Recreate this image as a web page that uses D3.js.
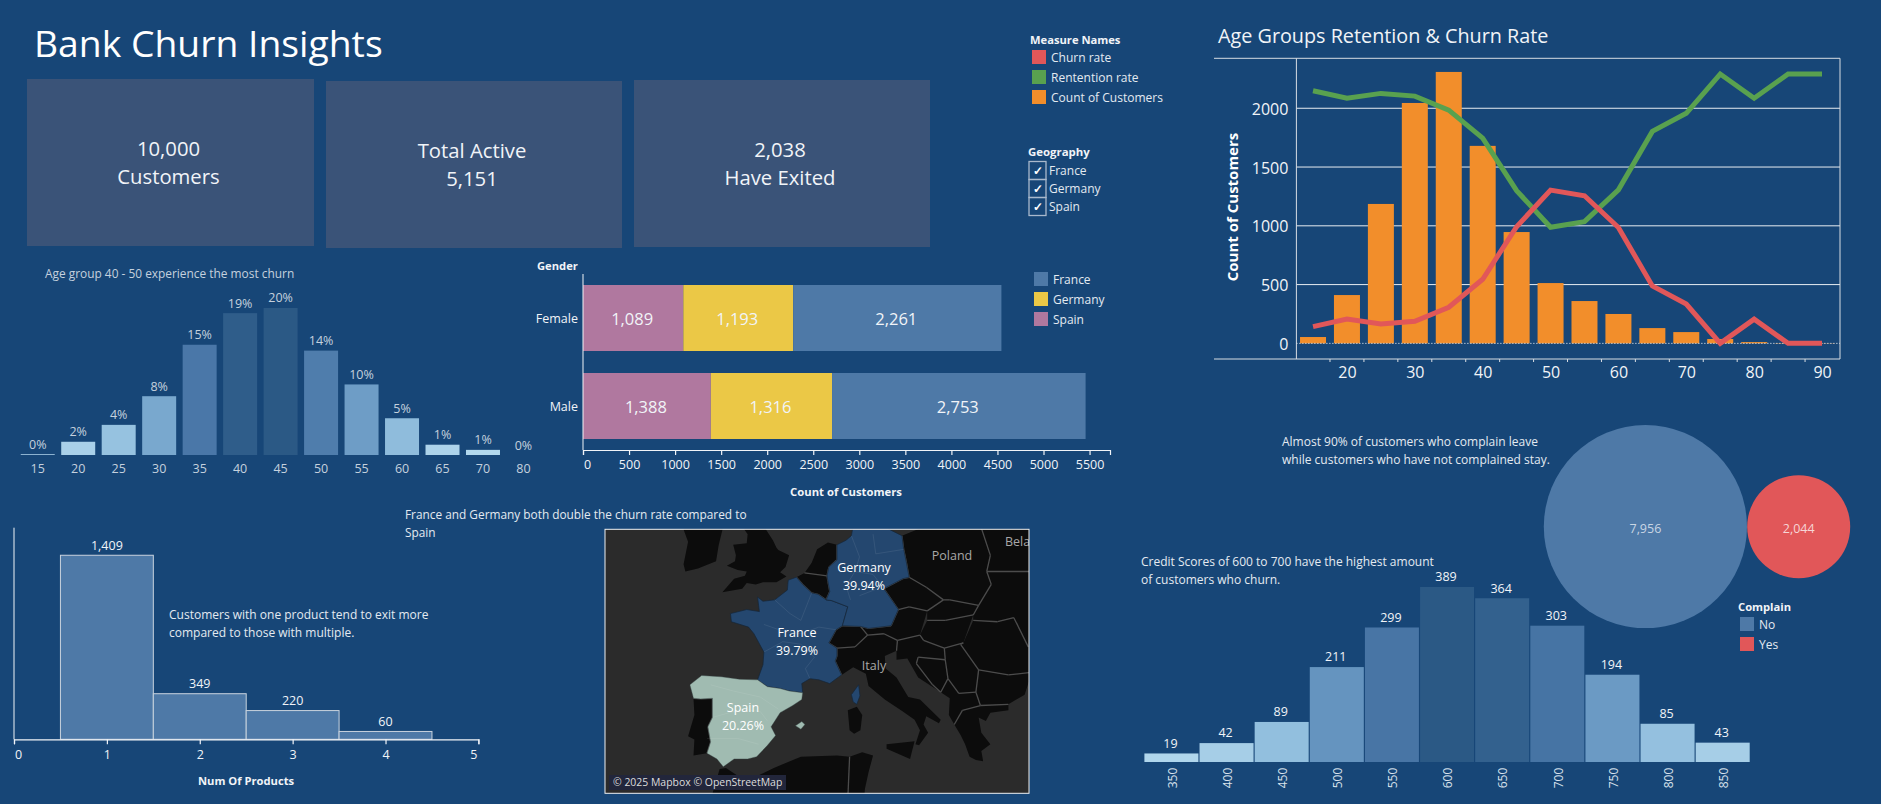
<!DOCTYPE html>
<html>
<head>
<meta charset="utf-8">
<script src="https://cdn.jsdelivr.net/npm/d3@7"></script>
<style>
  html, body { margin: 0; padding: 0; background: #174677; overflow: hidden; }
  svg { display: block; }
  text { font-family: 'Open Sans', sans-serif; }
</style>
</head>
<body>
<svg id="dash"></svg>
<script>
// values
const ageBins = [15, 20, 25, 30, 35, 40, 45, 50, 55, 60, 65, 70, 80];
const agePct = [0.1, 1.8, 4.1, 8.0, 15.0, 19.3, 20.0, 14.2, 9.6, 5.0, 1.4, 0.7, 0];

const genders = ['Female', 'Male'];
const geoNames = ['Spain', 'Germany', 'France'];
const spainByGender = [1089, 1388];
const germanyByGender = [1193, 1316];
const franceByGender = [2261, 2753];
const genderTicks = [0, 500, 1000, 1500, 2000, 2500, 3000, 3500, 4000, 4500, 5000, 5500];

const lineAges = [15, 20, 25, 30, 35, 40, 45, 50, 55, 60, 65, 70, 75, 80, 85, 90];
const customerCounts = [54, 411, 1186, 2045, 2309, 1680, 947, 513, 360, 250, 130, 96, 37, 11, 3, 2];
const churnRate = [6.2, 9, 7.2, 8.2, 13.4, 23.8, 43.3, 56.9, 54.8, 43, 21.3, 14.6, 0, 9, 0, 0];
const retentionRate = [93.8, 91, 92.8, 91.8, 86.6, 76.2, 56.7, 43.1, 45.2, 57, 78.7, 85.4, 100, 91, 100, 100];
const lineYTicks = [0, 500, 1000, 1500, 2000];
const lineXTicks = [20, 30, 40, 50, 60, 70, 80, 90];
const binEdges = [17.5, 22.5, 27.5, 32.5, 37.5, 42.5, 47.5, 52.5, 57.5, 62.5, 67.5, 72.5, 77.5, 82.5, 87.5];

const products = [1, 2, 3, 4];
const productExits = [1409, 349, 220, 60];
const productTicks = [0, 1, 2, 3, 4, 5];

const creditBins = [350, 400, 450, 500, 550, 600, 650, 700, 750, 800, 850];
const creditChurn = [19, 42, 89, 211, 299, 389, 364, 303, 194, 85, 43];

const complainNames = ['No', 'Yes'];
const complainCounts = [7956, 2044];

// country outlines, [lon, lat]
const france = [[-1.8,43.4],[-1.2,44.6],[-1.1,45.6],[-2.2,47.0],[-2.8,47.5],[-4.7,47.9],[-4.8,48.5],[-3.0,48.8],[-1.6,48.65],[-1.8,49.7],[-1.2,49.4],[0.1,49.5],[1.5,50.2],[1.6,50.9],[2.5,51.1],[3.2,50.6],[4.2,50.0],[4.9,49.9],[5.8,49.5],[6.4,49.45],[8.2,49.0],[7.6,47.6],[6.9,47.3],[6.1,46.3],[7.0,45.9],[7.0,45.3],[6.8,44.9],[7.5,43.8],[6.2,43.1],[5.0,43.4],[4.0,43.5],[3.1,43.1],[3.2,42.35],[1.7,42.5],[0.7,42.7],[-0.7,42.85]];
const corsica = [[8.6,42.2],[9.4,43.0],[9.55,42.1],[9.2,41.4],[8.8,41.6]];
const germany = [[7.0,53.3],[8.0,53.6],[8.6,53.9],[8.9,54.9],[9.9,54.8],[11.0,54.4],[12.5,54.4],[14.2,53.9],[14.4,53.0],[14.7,52.1],[15.0,51.1],[14.3,51.0],[12.2,50.3],[13.8,48.8],[13.0,47.6],[10.5,47.4],[9.6,47.55],[7.6,47.6],[8.2,49.0],[6.4,49.45],[5.8,49.5],[6.2,50.1],[6.0,50.8],[5.9,51.2],[6.1,51.8],[7.0,52.3]];
const spain = [[-9.3,43.0],[-8.0,43.75],[-5.8,43.65],[-3.8,43.45],[-1.8,43.4],[-0.7,42.85],[0.7,42.7],[1.7,42.5],[3.2,42.35],[3.1,41.8],[2.1,41.3],[0.7,40.7],[-0.3,39.5],[0.2,38.75],[-0.7,37.9],[-1.9,36.9],[-2.9,36.7],[-4.4,36.7],[-5.6,36.0],[-6.3,36.7],[-7.4,37.2],[-7.0,38.2],[-7.3,39.5],[-6.8,40.3],[-6.8,41.9],[-8.1,41.85],[-8.9,41.9]];
const mallorca = [[2.4,39.6],[3.1,39.95],[3.45,39.7],[3.0,39.3]];
const portugal = [[-8.9,41.9],[-8.1,41.85],[-6.8,41.9],[-6.8,40.3],[-7.3,39.5],[-7.0,38.2],[-7.4,37.2],[-8.9,37.0],[-8.8,38.4],[-9.5,38.7],[-8.8,40.5]];
const britain = [[-5.7,50.05],[-3.5,50.3],[-3.0,50.7],[-2.0,50.6],[-1.2,50.75],[0.3,50.75],[1.4,51.15],[0.7,51.45],[1.3,51.8],[1.7,52.6],[0.5,52.95],[0.3,53.1],[-0.1,53.6],[-1.2,54.6],[-1.6,55.5],[-3,55.5],[-3.1,54.9],[-3.5,54.5],[-2.9,54.0],[-3.0,53.4],[-4.5,53.3],[-4.2,52.6],[-4.3,52.2],[-5.2,51.9],[-4.0,51.6],[-3.0,51.5],[-3.2,51.2],[-4.4,51.0]];
const ireland = [[-10,52],[-9.5,53.5],[-10,54.3],[-8.5,55.3],[-6,55.3],[-5.6,54.5],[-6.1,53.3],[-6.4,52.2],[-8.4,51.7],[-9.8,51.5]];
const belgium = [[2.5,51.1],[3.4,51.4],[5.9,51.2],[6.0,50.8],[6.2,50.1],[5.8,49.5],[4.9,49.9],[4.2,50.0],[3.2,50.6]];
const netherlands = [[3.4,51.4],[4.2,52.1],[4.8,53.0],[6.0,53.45],[7.0,53.3],[7.0,52.3],[6.1,51.8],[5.9,51.2]];
const poland = [[14.2,53.9],[18,54.8],[23,54.4],[24,52.6],[23.6,51.5],[24.1,50.6],[22.7,49.1],[19.5,49.5],[18.8,49.5],[16.9,50.4],[15.0,51.1],[14.7,52.1],[14.4,53.0]];
const czechia = [[15.0,51.1],[16.9,50.4],[18.8,49.5],[17,48.7],[15,49],[13.8,48.8],[12.2,50.3],[14.3,51.0]];
const switzerland = [[6.1,46.3],[6.9,47.3],[7.6,47.6],[9.6,47.55],[10.4,46.9],[9,46],[7.0,45.9]];
const austria = [[9.6,47.55],[10.5,47.4],[13.0,47.6],[13.8,48.8],[15,49],[17,48.7],[16.2,46.9],[13.7,46.5],[12.2,47],[10.4,46.9]];
const italy = [[7.0,45.9],[9,46],[10.4,46.9],[12.2,47],[13.7,46.5],[13.6,45.7],[12.3,45.3],[12.4,44.3],[13.6,43.6],[14.9,42.0],[16.2,41.8],[18.5,40.1],[18.3,39.8],[16.9,40.4],[16.6,39.7],[17.1,39.0],[16.1,37.9],[15.7,38.0],[16.2,39.2],[15.6,40.1],[14.3,40.8],[12.3,41.8],[10.5,42.9],[10.2,43.9],[8.8,44.4],[7.5,43.8],[6.8,44.9],[7.0,45.3]];
const sardinia = [[8.2,40.9],[9.2,41.2],[9.8,40.5],[9.6,39.2],[8.9,38.9],[8.4,39.2]];
const sicily = [[12.5,38.0],[15.6,38.25],[15.1,36.7],[12.5,37.6]];
const slovakia = [[17,48.7],[18.8,49.5],[19.5,49.5],[22.7,49.1],[22.1,48.4],[19,48],[17,48]];
const hungary = [[16.2,46.9],[17,48],[19,48],[22.1,48.4],[21,46.3],[18.9,45.9],[16.6,46.5]];
const croatia = [[13.7,46.5],[16.2,46.9],[16.6,46.5],[18.9,45.9],[19,45],[16,45.2],[15.8,44.7],[17.6,43],[18.5,42.4],[16,43.6],[14.8,45.1],[13.6,45],[13.6,45.7]];
const bosnia = [[16,45.2],[19,45],[19.3,43.5],[18.5,42.4],[17.6,43],[15.8,44.7]];
const serbia = [[19,45],[18.9,45.9],[21,46.3],[20.7,46.2],[22.7,44.2],[22.4,42.4],[20.5,42.3],[19.3,43.5]];
const romania = [[21,46.3],[22.1,48.0],[24.8,47.9],[26.6,48.2],[28.2,46],[29.6,45.2],[28.6,44],[26,43.8],[22.7,44.2],[20.7,46.2]];
const bulgaria = [[22.7,44.2],[26,43.8],[28.6,44],[27.8,42.2],[26,41.4],[22.9,41.3],[22.4,42.4]];
const albania = [[18.5,42.4],[19.3,43.5],[20.5,42.3],[22.4,42.4],[22.9,41.3],[20.9,40.9],[20,39.7],[19.4,40.5],[19.5,41.9]];
const greece = [[20,39.7],[20.9,40.9],[22.9,41.3],[26,41.4],[26,40.9],[24,40.7],[23.5,40],[22.7,40.3],[23,39],[24,38],[23,37.4],[23.2,36.5],[22.4,36.6],[21.7,36.9],[21.2,38],[20.7,38.8]];
const ukraine = [[24.1,50.6],[23.6,51.5],[30,51.5],[30,46],[28.2,46],[26.6,48.2],[24.8,47.9],[22.1,48.0],[22.1,48.4],[22.7,49.1]];
const belarus = [[23.6,51.5],[24,52.6],[23,54.4],[30,55],[30,51.5]];
const algeria = [[-6.0,35.8],[-5.3,35.9],[-4,35.2],[-2,35.1],[0,35.9],[3,36.9],[7,37],[8.4,36.9],[8.2,33],[-7,33]];
const tunisia = [[8.4,36.9],[9.8,37.3],[11,37],[10.5,35.5],[10.1,34],[10,33],[8.2,33]];

const darkLand = [portugal, britain, ireland, belgium, netherlands, poland, czechia, switzerland, austria, italy, sardinia, sicily,
  slovakia, hungary, croatia, bosnia, serbia, romania, bulgaria, albania, greece, ukraine, belarus, algeria, tunisia];

// faint region lines inside the three highlighted countries
const regionLines = [
  [[0.1,49.5],[1.8,48.5],[3.0,48.0],[4.2,50.0]],
  [[-1.1,47.7],[1.0,47.2],[3.0,47.0],[5.0,47.5],[6.9,47.3]],
  [[-1.1,45.6],[1.0,46.4],[3.0,46.2],[4.5,45.2],[3.5,44.3],[4.0,43.5]],
  [[8.6,53.9],[9.5,52.5],[9.0,51.5],[8.0,50.5],[8.5,49.5]],
  [[9.0,51.5],[11.0,51.3],[12.2,50.3]],
  [[11.0,54.0],[11.3,52.7],[14.4,53.0]],
  [[9.5,49.8],[11.5,50.3]],
  [[-7.0,43.0],[-4.5,42.5],[-1.5,42.0],[0.5,41.0]],
  [[-6.8,40.3],[-3.5,41.0],[-1.5,40.8],[-0.7,40.0]],
  [[-7.4,38.5],[-4.0,38.5],[-1.7,38.0]]
];

const width = 1881, height = 804;
const ink = '#f1f4f8', soft = '#c5d1de', note = '#e4eaf1';
const barBlues = d3.scaleLinear().domain([0, 0.25, 0.5, 0.75, 1])
  .range(['#b8dcf0', '#8fbcdc', '#6b9ac4', '#4a77a8', '#2b5985']);

const svg = d3.select('#dash').attr('width', width).attr('height', height);

function label(parent, x, y, str, size, fill, opts = {}) {
  return parent.append('text')
    .attr('x', x).attr('y', y)
    .attr('dy', '0.35em')
    .attr('font-size', size)
    .attr('font-weight', opts.weight || 400)
    .attr('text-anchor', opts.anchor || 'start')
    .attr('fill', fill)
    .text(str);
}

function swatchRow(x, y, color, name, textX) {
  svg.append('rect').attr('x', x).attr('y', y).attr('width', 14).attr('height', 14).attr('fill', color);
  label(svg, textX, y + 8, name, 12, note);
}

// title and cards
label(svg, 34, 44, 'Bank Churn Insights', 37.3, '#ffffff');
label(svg, 1218, 36, 'Age Groups Retention & Churn Rate', 19.8, ink);

const cardX = d3.scaleOrdinal().domain([0, 1, 2]).range([27, 326, 634]);
const cardW = [287, 296, 296];
const cardY = [79, 81, 80];
const cardLines = [['10,000', 'Customers'], ['Total Active', '5,151'], ['2,038', 'Have Exited']];
cardLines.forEach((lines, i) => {
  svg.append('rect').attr('x', cardX(i)).attr('y', cardY[i]).attr('width', cardW[i]).attr('height', 167).attr('fill', '#3a5378');
  lines.forEach((t, j) => {
    label(svg, cardX(i) + cardW[i] / 2 - 2, cardY[i] + 70 + j * 28, t, 20.3, ink, { anchor: 'middle' });
  });
});

// age histogram
label(svg, 45, 274, 'Age group 40 - 50 experience the most churn', 11.9, soft);
const ageX = d3.scaleBand().domain(ageBins).range([17.5, 543.7]).paddingInner(0.16).paddingOuter(0.08);
const ageY = d3.scaleLinear().domain([0, 20]).range([455, 308]);
const ageG = svg.append('g');
ageG.selectAll('rect').data(agePct).join('rect')
  .attr('x', (d, i) => ageX(ageBins[i]))
  .attr('y', d => ageY(d))
  .attr('width', ageX.bandwidth())
  .attr('height', d => ageY(0) - ageY(d))
  .attr('fill', d => barBlues(d / 20));
agePct.forEach((d, i) => {
  const cx = ageX(ageBins[i]) + ageX.bandwidth() / 2;
  label(ageG, cx, ageY(d) - 10 + (i === 12 ? 1 : 0), d3.format('.0f')(d) + '%', 12.5, soft, { anchor: 'middle' });
  label(ageG, cx, 469, ageBins[i], 12.5, soft, { anchor: 'middle' });
});

// gender stacked bars
const genderX = d3.scaleLinear().domain([0, 5722]).range([583, 1110]);
const genderRows = genders.map((g, i) => ({ gender: g, Spain: spainByGender[i], Germany: germanyByGender[i], France: franceByGender[i] }));
const genderStack = d3.stack().keys(geoNames)(genderRows);
const geoColor = d3.scaleOrdinal().domain(geoNames).range(['#b0789f', '#ebc846', '#4e79a7']);
const rowTop = { Female: 285, Male: 373 };
const genderG = svg.append('g');
genderStack.forEach(layer => {
  layer.forEach(seg => {
    const x0 = genderX(seg[0]), x1 = genderX(seg[1]);
    genderG.append('rect')
      .attr('x', x0).attr('y', rowTop[seg.data.gender])
      .attr('width', x1 - x0).attr('height', 66)
      .attr('fill', geoColor(layer.key));
    label(genderG, (x0 + x1) / 2 - 1, rowTop[seg.data.gender] + 34, d3.format(',')(seg[1] - seg[0]), 16.5, ink, { anchor: 'middle' });
  });
});
const genderAxis = svg.append('g')
  .attr('transform', 'translate(0,450)')
  .call(d3.axisBottom(genderX).tickValues(genderTicks).tickFormat(d3.format('d')).tickSize(5).tickPadding(5));
genderAxis.selectAll('.domain, line').attr('stroke', ink).attr('stroke-width', 1.2);
genderAxis.selectAll('text').attr('font-size', 12.5).attr('fill', ink).attr('font-family', "'Open Sans', sans-serif");
genderAxis.selectAll('.tick text').filter(d => d === 0).attr('dx', 4);
svg.append('line').attr('x1', 583).attr('x2', 583).attr('y1', 274).attr('y2', 450).attr('stroke', ink).attr('stroke-width', 1);
label(svg, 537, 266, 'Gender', 11.2, ink, { weight: 700 });
label(svg, 578, 319, 'Female', 12.5, ink, { anchor: 'end' });
label(svg, 578, 407, 'Male', 12.5, ink, { anchor: 'end' });
label(svg, 846, 492, 'Count of Customers', 11.3, ink, { weight: 700, anchor: 'middle' });
['France', 'Germany', 'Spain'].forEach((n, i) => swatchRow(1034, 272 + i * 20, geoColor(n), n, 1053));

// measure legend and geography filter
label(svg, 1030, 40, 'Measure Names', 11.2, ink, { weight: 700 });
[['Churn rate', '#e15759'], ['Rentention rate', '#59a14f'], ['Count of Customers', '#f28e2b']].forEach((row, i) => {
  swatchRow(1032, 50 + i * 20, row[1], row[0], 1051);
});
label(svg, 1028, 152, 'Geography', 11.4, ink, { weight: 700 });
['France', 'Germany', 'Spain'].forEach((n, i) => {
  const y = 161.5 + i * 18;
  svg.append('rect').attr('x', 1029).attr('y', y).attr('width', 17).attr('height', 18)
    .attr('fill', 'none').attr('stroke', '#a9b8cc').attr('stroke-width', 1.3);
  label(svg, 1037.5, y + 9, '✓', 12, '#ffffff', { weight: 700, anchor: 'middle' }).attr('font-family', "'DejaVu Sans', sans-serif");
  label(svg, 1049, y + 9, n, 12, note);
});

// age line and bar combo
const comboX = d3.scaleLinear().domain([12.55, 92.65]).range([1296.4, 1840]);
const comboY = d3.scaleLinear().domain([-133, 2425]).range([359, 58.3]);
const rateY = d3.scaleLinear().domain([0, 100]).range([comboY(0), 74]);
const combo = svg.append('g');
combo.selectAll('.grid').data(lineYTicks.filter(d => d > 0)).join('line')
  .attr('class', 'grid')
  .attr('x1', 1296.4).attr('x2', 1840)
  .attr('y1', d => comboY(d)).attr('y2', d => comboY(d))
  .attr('stroke', '#e8edf2').attr('stroke-width', 1);
combo.selectAll('.bar').data(customerCounts).join('rect')
  .attr('class', 'bar')
  .attr('x', (d, i) => comboX(lineAges[i]) - 13)
  .attr('y', d => comboY(d))
  .attr('width', 26)
  .attr('height', d => comboY(0) - comboY(d))
  .attr('fill', '#f28e2b');
combo.append('line')
  .attr('x1', 1296.4).attr('x2', 1840)
  .attr('y1', comboY(0)).attr('y2', comboY(0))
  .attr('stroke', '#ffffff').attr('stroke-dasharray', '1,2');
const rateLine = d3.line().x((d, i) => comboX(lineAges[i])).y(d => rateY(d));
combo.append('path').datum(retentionRate).attr('d', rateLine)
  .attr('fill', 'none').attr('stroke', '#59a14f').attr('stroke-width', 5);
combo.append('path').datum(churnRate).attr('d', rateLine)
  .attr('fill', 'none').attr('stroke', '#e15759').attr('stroke-width', 5);
const frame = svg.append('g').attr('stroke', '#d8dde3').attr('stroke-width', 1);
frame.append('line').attr('x1', 1214).attr('x2', 1840).attr('y1', 58.3).attr('y2', 58.3);
frame.append('line').attr('x1', 1214).attr('x2', 1840).attr('y1', 359).attr('y2', 359);
frame.append('line').attr('x1', 1296.4).attr('x2', 1296.4).attr('y1', 58.3).attr('y2', 359);
frame.append('line').attr('x1', 1840).attr('x2', 1840).attr('y1', 58.3).attr('y2', 359);
const comboAxisX = svg.append('g').attr('transform', 'translate(0,359)')
  .call(d3.axisBottom(comboX).tickValues(lineXTicks).tickSize(0).tickPadding(8));
comboAxisX.select('.domain').remove();
comboAxisX.selectAll('text').attr('font-size', 16).attr('fill', ink).attr('font-family', "'Open Sans', sans-serif");
svg.append('g').selectAll('line').data(binEdges).join('line')
  .attr('x1', d => comboX(d)).attr('x2', d => comboX(d))
  .attr('y1', 359).attr('y2', 362)
  .attr('stroke', '#d8dde3');
const comboAxisY = svg.append('g').attr('transform', 'translate(1296.4,1)')
  .call(d3.axisLeft(comboY).tickValues(lineYTicks).tickFormat(d3.format('d')).tickSize(0).tickPadding(8));
comboAxisY.select('.domain').remove();
comboAxisY.selectAll('text').attr('font-size', 16).attr('fill', ink).attr('font-family', "'Open Sans', sans-serif");
label(svg, 0, 0, 'Count of Customers', 15, '#ffffff', { weight: 700, anchor: 'middle' })
  .attr('transform', 'translate(1233,207) rotate(-90)');

// products
const prodX = d3.scaleLinear().domain([0, 5]).range([14, 478.4]);
const prodY = d3.scaleLinear().domain([0, 1620]).range([739.3, 527.7]);
const prodG = svg.append('g');
prodG.selectAll('rect').data(productExits).join('rect')
  .attr('x', (d, i) => prodX(products[i] - 0.5))
  .attr('y', d => prodY(d))
  .attr('width', prodX(1) - prodX(0))
  .attr('height', d => prodY(0) - prodY(d))
  .attr('fill', '#4e79a7')
  .attr('stroke', '#c9d3de')
  .attr('stroke-width', 1);
productExits.forEach((d, i) => {
  label(prodG, prodX(products[i]), prodY(d) - 10, d3.format(',')(d), 12.5, ink, { anchor: 'middle' });
});
const prodAxis = svg.append('g').attr('transform', 'translate(0,739.3)')
  .call(d3.axisBottom(prodX).tickValues(productTicks).tickFormat(d3.format('d')).tickSize(5).tickPadding(6));
prodAxis.selectAll('.domain, line').attr('stroke', ink).attr('stroke-width', 1.2);
prodAxis.selectAll('text').attr('font-size', 12.5).attr('fill', ink).attr('font-family', "'Open Sans', sans-serif");
prodAxis.selectAll('.tick text').filter(d => d === 0).attr('dx', 4);
prodAxis.selectAll('.tick text').filter(d => d === 5).attr('dx', -5);
svg.append('line').attr('x1', 14).attr('x2', 14).attr('y1', 527.7).attr('y2', 739.3).attr('stroke', ink);
label(svg, 246, 781, 'Num Of Products', 11.2, ink, { weight: 700, anchor: 'middle' });
label(svg, 169, 615, 'Customers with one product tend to exit more', 12, note);
label(svg, 169, 633, 'compared to those with multiple.', 12, note);

// map
label(svg, 405, 515, 'France and Germany both double the churn rate compared to', 11.85, note);
label(svg, 405, 533, 'Spain', 11.85, note);
const projection = d3.geoMercator().scale(517).translate([773.8, 1115.4]);
const ringPath = d3.line().x(d => projection(d)[0]).y(d => projection(d)[1]).curve(d3.curveLinearClosed);
const openPath = d3.line().x(d => projection(d)[0]).y(d => projection(d)[1]);
const defs = svg.append('defs');
defs.append('clipPath').attr('id', 'mapClip').append('rect')
  .attr('x', 605).attr('y', 529.3).attr('width', 424).attr('height', 264);
const mapG = svg.append('g').attr('clip-path', 'url(#mapClip)');
mapG.append('rect').attr('x', 605).attr('y', 529.3).attr('width', 424).attr('height', 264).attr('fill', '#2b2b2b');
mapG.selectAll('.land').data(darkLand).join('path')
  .attr('class', 'land').attr('d', ringPath).attr('fill', '#0c0c0c');
// land borders: only the edges two outlines share, so coasts stay unstroked
const edges = new Map();
[...darkLand, france, germany, spain].forEach(ring => {
  ring.forEach((p, i) => {
    const q = ring[(i + 1) % ring.length];
    const key = [String(p), String(q)].sort().join('|');
    const seen = edges.get(key);
    edges.set(key, { p, q, n: seen ? seen.n + 1 : 1 });
  });
});
const sharedEdges = [...edges.values()].filter(e => e.n > 1);
mapG.selectAll('.border').data(sharedEdges).join('path')
  .attr('class', 'border')
  .attr('d', e => openPath([e.p, e.q]))
  .attr('fill', 'none').attr('stroke', '#4c4c4c').attr('stroke-width', 1.3);
[france, germany, corsica].forEach(ring => {
  mapG.append('path').datum(ring).attr('d', ringPath)
    .attr('fill', '#24476f').attr('stroke', '#16263a').attr('stroke-width', 0.7);
});
[spain, mallorca].forEach(ring => {
  mapG.append('path').datum(ring).attr('d', ringPath)
    .attr('fill', '#a0bbb1').attr('stroke', '#3a4a48').attr('stroke-width', 0.4);
});
mapG.selectAll('.region').data(regionLines).join('path')
  .attr('class', 'region')
  .attr('d', openPath)
  .attr('fill', 'none').attr('stroke', '#ffffff').attr('stroke-opacity', 0.1).attr('stroke-width', 0.8);
[['Poland', 952, 556], ['Italy', 874, 666]].forEach(r => label(mapG, r[1], r[2], r[0], 12.5, '#a8a8a8', { anchor: 'middle' }));
label(mapG, 1005, 542, 'Bela', 12.5, '#a8a8a8');
[['Germany', '39.94%', 864, 568], ['France', '39.79%', 797, 633], ['Spain', '20.26%', 743, 708]].forEach(r => {
  label(mapG, r[2], r[3], r[0], 12.5, '#ffffff', { anchor: 'middle' });
  label(mapG, r[2], r[3] + 18, r[1], 12.5, '#ffffff', { anchor: 'middle' });
});
mapG.append('rect').attr('x', 609).attr('y', 775).attr('width', 177).attr('height', 15).attr('fill', '#22263b');
label(mapG, 613, 782.5, '© 2025 Mapbox © OpenStreetMap', 10.45, '#dcdcdc').attr('font-family', "'Liberation Sans', sans-serif");
svg.append('rect').attr('x', 605).attr('y', 529.3).attr('width', 424).attr('height', 264)
  .attr('fill', 'none').attr('stroke', '#f0f0f0').attr('stroke-width', 1);

// complain bubbles
label(svg, 1282, 442, 'Almost 90% of customers who complain leave', 12, note);
label(svg, 1282, 460, 'while customers who have not complained stay.', 12, note);
const bubbleR = d3.scaleSqrt().domain([0, 7956]).range([0, 101.6]);
const bubbleX = [1645.4, 1798.7];
defs.append('clipPath').attr('id', 'bubbleClip').append('rect')
  .attr('x', 1530).attr('y', 420).attr('width', 340).attr('height', 208);
const complainColor = d3.scaleOrdinal().domain(complainNames).range(['#4e79a7', '#e15759']);
const bubbleG = svg.append('g').attr('clip-path', 'url(#bubbleClip)');
bubbleG.selectAll('circle').data(complainCounts).join('circle')
  .attr('cx', (d, i) => bubbleX[i]).attr('cy', 526.7)
  .attr('r', d => bubbleR(d))
  .attr('fill', (d, i) => complainColor(complainNames[i]));
complainCounts.forEach((d, i) => {
  label(bubbleG, bubbleX[i], 529, d3.format(',')(d), 12.5, i ? '#f6d5d5' : '#c9d6e4', { anchor: 'middle' });
});
label(svg, 1738, 607, 'Complain', 11.2, ink, { weight: 700 });
complainNames.forEach((n, i) => swatchRow(1740, 617 + i * 20, complainColor(n), n, 1759));

// credit score histogram
label(svg, 1141, 562, 'Credit Scores of 600 to 700 have the highest amount', 12, note);
label(svg, 1141, 580, 'of customers who churn.', 12, note);
const creditX = d3.scaleBand().domain(creditBins).range([1144.4, 1749.7]).paddingInner(0.02).paddingOuter(0);
const creditY = d3.scaleLinear().domain([0, 389]).range([762, 587]);
const creditG = svg.append('g');
creditG.selectAll('rect').data(creditChurn).join('rect')
  .attr('x', (d, i) => creditX(creditBins[i]))
  .attr('y', d => creditY(d))
  .attr('width', creditX.bandwidth())
  .attr('height', d => creditY(0) - creditY(d))
  .attr('fill', d => barBlues(d / 389));
creditChurn.forEach((d, i) => {
  const cx = creditX(creditBins[i]) + creditX.bandwidth() / 2;
  label(creditG, cx - 1, creditY(d) - 10, d, 12.5, ink, { anchor: 'middle' });
  label(creditG, 0, 0, creditBins[i], 12, '#d9e2ec', { anchor: 'middle' })
    .attr('transform', `translate(${cx + 1},778) rotate(-90)`);
});
</script>
</body>
</html>
